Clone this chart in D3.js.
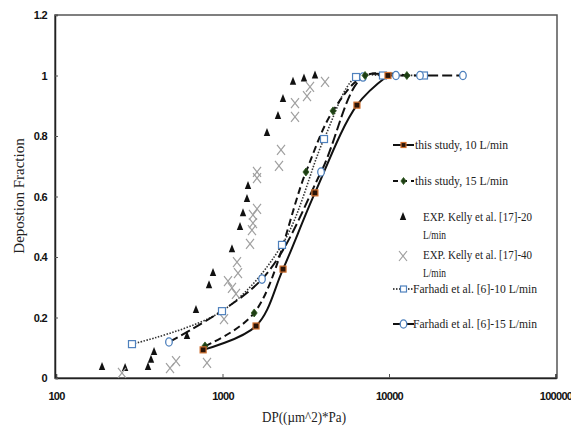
<!DOCTYPE html>
<html>
<head>
<meta charset="utf-8">
<script src="https://cdn.jsdelivr.net/npm/d3@7"></script>
<style>
  body { margin: 0; background: #fff; }
  .tick text { font-family: "Liberation Sans", Arial, sans-serif; font-weight: bold; font-size: 11px; letter-spacing: -0.7px; fill: #111; }
  .serif { font-family: "Liberation Serif", "Times New Roman", serif; fill: #222; }
</style>
</head>
<body>
<svg id="chart" width="571" height="432"></svg>
<script>
// values
const study10X = [765, 1590, 2310, 3590, 6420, 9860];
const study10Y = [0.093, 0.172, 0.36, 0.612, 0.902, 1.0];

const study15X = [785, 1550, 3170, 4610, 7180, 12800];
const study15Y = [0.106, 0.215, 0.681, 0.883, 1.0, 1.0];

const kelly20X = [189, 260, 357, 372, 388, 612, 693, 830, 877, 1140, 1274, 1328, 1403, 1423, 1850, 2154, 2308, 2651, 3086, 3594];
const kelly20Y = [0.036, 0.033, 0.036, 0.06, 0.086, 0.139, 0.225, 0.307, 0.347, 0.426, 0.499, 0.545, 0.592, 0.635, 0.81, 0.866, 0.922, 0.979, 0.99, 1.0];

const kelly40X = [249, 484, 526, 807, 1021, 1079, 1140, 1205, 1222, 1239, 1463, 1503, 1524, 1524, 1612, 1612, 1612, 2184, 2246, 2725, 2725, 3218, 3354, 4128];
const kelly40Y = [0.017, 0.033, 0.056, 0.05, 0.195, 0.32, 0.298, 0.278, 0.383, 0.347, 0.443, 0.489, 0.512, 0.539, 0.559, 0.661, 0.681, 0.701, 0.754, 0.863, 0.909, 0.932, 0.962, 0.979];

const farhadi10X = [286, 993, 2277, 4070, 6340, 9200, 16220];
const farhadi10Y = [0.112, 0.221, 0.44, 0.79, 0.995, 1.0, 1.0];

const farhadi15X = [477, 1727, 3906, 6979, 11010, 15350, 27800];
const farhadi15Y = [0.119, 0.327, 0.681, 0.995, 1.0, 1.0, 1.0];

const xTicks = [100, 1000, 10000, 100000];
const yTicks = [0, 0.2, 0.4, 0.6, 0.8, 1, 1.2];

const legendLabels = [
  ['this study, 10 L/min'],
  ['this study, 15 L/min'],
  ['EXP. Kelly et al. [17]-20', 'L/min'],
  ['EXP. Kelly et al. [17]-40', 'L/min'],
  ['Farhadi et al. [6]-10 L/min'],
  ['Farhadi et al. [6]-15 L/min']
];

const BLUE = '#4f81bd';
const svg = d3.select('#chart');
const L = 55, T = 15, R = 557, B = 378;

const x = d3.scaleLog().domain([100, 100000]).range([56, 555.5]);
const y = d3.scaleLinear().domain([0, 1.2]).range([B, T]);

const zip = (xs, ys) => xs.map((v, i) => ({ x: v, y: ys[i] }));

// frame
svg.append('rect').attr('x', L).attr('y', T).attr('width', R - L).attr('height', B - T)
  .attr('fill', 'none').attr('stroke', '#555').attr('stroke-width', 1.5);

const xAxis = svg.append('g').attr('transform', `translate(0,${B})`)
  .call(d3.axisBottom(x).tickValues(xTicks).tickFormat(d3.format('d')).tickSize(-4).tickPadding(14));
const yAxis = svg.append('g').attr('transform', `translate(${L},0)`)
  .call(d3.axisLeft(y).tickValues(yTicks).tickFormat(d => String(d)).tickSize(-3).tickPadding(8));
[xAxis, yAxis].forEach(a => {
  a.select('.domain').attr('stroke', '#222').attr('stroke-width', 1.5);
  a.selectAll('.tick line').attr('stroke', '#555');
});

// axis titles
svg.append('text').attr('class', 'serif').attr('x', 304).attr('y', 422)
  .attr('text-anchor', 'middle').attr('font-size', 14).attr('textLength', 84)
  .attr('lengthAdjust', 'spacingAndGlyphs').text('DP((µm^2)*Pa)');
svg.append('text').attr('class', 'serif')
  .attr('transform', 'translate(24,196) rotate(-90)')
  .attr('text-anchor', 'middle').attr('font-size', 15).text('Depostion Fraction');

const line = d3.line().x(d => x(d.x)).y(d => y(d.y)).curve(d3.curveCatmullRom.alpha(0.5));

// marker helpers
const square = (g, cx, cy, s, fill, stroke) => g.append('rect')
  .attr('x', cx - s / 2).attr('y', cy - s / 2).attr('width', s).attr('height', s)
  .attr('fill', fill).attr('stroke', stroke).attr('stroke-width', 1.2);
const diamond = (g, cx, cy, s) => g.append('path')
  .attr('d', `M${cx},${cy - s}L${cx + s * 0.75},${cy}L${cx},${cy + s}L${cx - s * 0.75},${cy}Z`)
  .attr('fill', '#1e3d14').attr('stroke', '#2d5a1e').attr('stroke-width', 0.8);
const triangle = (g, cx, cy) => g.append('path')
  .attr('d', `M${cx},${cy - 5}L${cx + 3.2},${cy + 3}L${cx - 3.2},${cy + 3}Z`).attr('fill', '#111');
const cross = (g, cx, cy) => g.append('path')
  .attr('d', `M${cx - 4},${cy - 5}L${cx + 4},${cy + 5}M${cx + 4},${cy - 5}L${cx - 4},${cy + 5}`)
  .attr('stroke', '#a0a0a0').attr('stroke-width', 1.2).attr('fill', 'none');
const ring = (g, cx, cy) => g.append('ellipse').attr('cx', cx).attr('cy', cy)
  .attr('rx', 3.3).attr('ry', 4.2).attr('fill', '#fff').attr('stroke', BLUE).attr('stroke-width', 1.3);

const plot = svg.append('g');

// lines
plot.append('path').attr('d', line(zip(farhadi10X, farhadi10Y)))
  .attr('fill', 'none').attr('stroke', '#333').attr('stroke-width', 1.6).attr('stroke-dasharray', '1.5,1.5');
plot.append('path').attr('d', line(zip(farhadi15X, farhadi15Y)))
  .attr('fill', 'none').attr('stroke', '#111').attr('stroke-width', 2).attr('stroke-dasharray', '10,4');
plot.append('path').attr('d', line(zip(study15X, study15Y)))
  .attr('fill', 'none').attr('stroke', '#111').attr('stroke-width', 2).attr('stroke-dasharray', '7,4');
plot.append('path').attr('d', line(zip(study10X, study10Y)))
  .attr('fill', 'none').attr('stroke', '#111').attr('stroke-width', 2);

// scatter
zip(kelly20X, kelly20Y).forEach(d => triangle(plot, x(d.x), y(d.y)));
zip(kelly40X, kelly40Y).forEach(d => cross(plot, x(d.x), y(d.y)));

// markers
zip(farhadi10X, farhadi10Y).forEach(d => square(plot, x(d.x), y(d.y), 7, '#fff', BLUE));
zip(farhadi15X, farhadi15Y).forEach(d => ring(plot, x(d.x), y(d.y)));
zip(study15X, study15Y).forEach(d => diamond(plot, x(d.x), y(d.y), 4));
zip(study10X, study10Y).forEach(d => square(plot, x(d.x), y(d.y), 6, '#2a1408', '#d0702f'));

// legend
const lg = svg.append('g');
const rowsY = [145, 181, 217, 255, 289, 324];
const textX = [415, 415, 423, 423, 413, 413];
const textW = [93, 93, 109, 109, 124, 124];

const seg = (cy, dash, w) => lg.append('line').attr('x1', 393).attr('x2', 414).attr('y1', cy).attr('y2', cy)
  .attr('stroke', '#111').attr('stroke-width', w).attr('stroke-dasharray', dash);
seg(rowsY[0], null, 2); square(lg, 403.5, rowsY[0], 5, '#2a1408', '#d0702f');
seg(rowsY[1], '5,4', 2); diamond(lg, 403.5, rowsY[1], 3.5);
triangle(lg, 403, rowsY[2]);
cross(lg, 403, rowsY[3] + 1);
seg(rowsY[4], '1.5,1.5', 1.5); square(lg, 403.5, rowsY[4], 6, '#fff', BLUE);
seg(rowsY[5], null, 2); ring(lg, 403.5, rowsY[5]);

legendLabels.forEach((lines, i) => {
  lines.forEach((t, j) => {
    const el = lg.append('text').attr('class', 'serif').attr('x', textX[i]).attr('y', rowsY[i] + 4 + j * 18)
      .attr('font-size', 12.5).text(t);
    if (j === 0) el.attr('textLength', textW[i]).attr('lengthAdjust', 'spacingAndGlyphs');
    else el.attr('textLength', 23).attr('lengthAdjust', 'spacingAndGlyphs');
  });
});
</script>
</body>
</html>
